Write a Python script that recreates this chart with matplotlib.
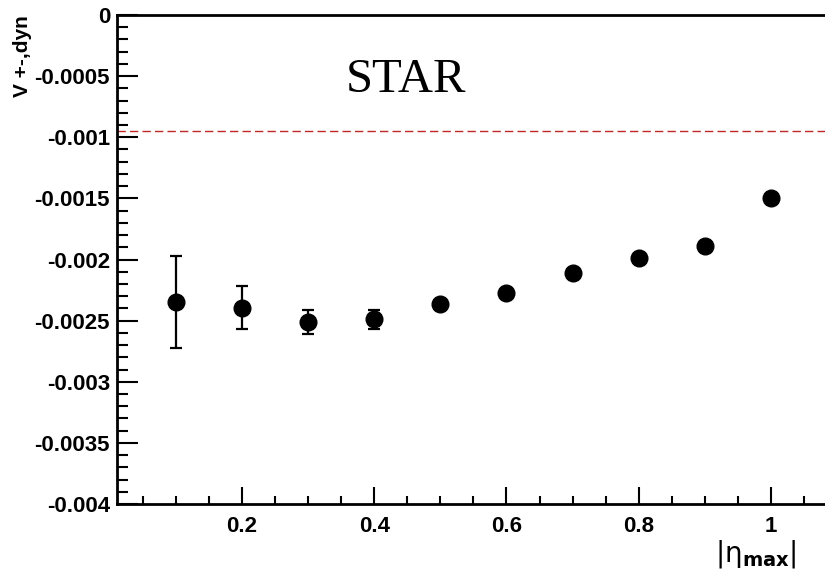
import numpy as np
import matplotlib
matplotlib.use("Agg")
import matplotlib.pyplot as plt
from matplotlib.ticker import MultipleLocator, FuncFormatter

eta_max = [0.1, 0.2, 0.3, 0.4, 0.5, 0.6, 0.7, 0.8, 0.9, 1.0]
v_dyn = [-0.00235, -0.00240, -0.00251, -0.00249, -0.00236, -0.00227,
         -0.00211, -0.00199, -0.00189, -0.00150]
err_up = [0.00038, 0.00018, 0.00010, 0.00008, 0.0, 0.0, 0.0, 0.0, 0.0, 0.0]
err_dn = [0.00037, 0.00017, 0.00010, 0.00008, 0.0, 0.0, 0.0, 0.0, 0.0, 0.0]
ref_level = -0.00095

plt.rcParams["font.family"] = ["Liberation Sans", "DejaVu Sans"]

fig = plt.figure(figsize=(8.25, 5.71), dpi=100)
ax = fig.add_axes([117 / 825, 1 - 504 / 571, 1 - 117 / 825, (504 - 15) / 571])

ax.axhline(ref_level, color="#c02828", lw=1.0, ls=(0, (6, 3)), zorder=1)
ax.errorbar(eta_max, v_dyn, yerr=[err_dn, err_up], fmt="o", color="black",
            ms=12, elinewidth=1.6, capsize=4, capthick=1.6, zorder=3)

ax.set_xlim(0.011, 1.0817)
ax.set_ylim(-0.004, 0.0)

ax.xaxis.set_major_locator(MultipleLocator(0.2))
ax.xaxis.set_minor_locator(MultipleLocator(0.05))
ax.yaxis.set_major_locator(MultipleLocator(0.0005))
ax.yaxis.set_minor_locator(MultipleLocator(0.0001))
ax.xaxis.set_major_formatter(FuncFormatter(lambda v, p: f"{v:g}"))
ax.yaxis.set_major_formatter(FuncFormatter(lambda v, p: "0" if abs(v) < 1e-12 else f"{v:g}"))

ax.tick_params(which="both", direction="in", width=1.5, labelsize=16,
               top=False, right=False)
ax.tick_params(axis="y", which="major", length=15, pad=5)
ax.tick_params(axis="y", which="minor", length=8)
ax.tick_params(axis="x", which="major", length=12, pad=9)
ax.tick_params(axis="x", which="minor", length=6)
for lab in ax.get_xticklabels() + ax.get_yticklabels():
    lab.set_fontweight("bold")

for s in ["left", "bottom", "top"]:
    ax.spines[s].set_linewidth(2)
ax.spines["right"].set_visible(False)

ax.text(0.357, -0.00063, "STAR", family="Liberation Serif", fontsize=35,
        ha="left", va="baseline")

fig.text(22 / 825, 1 - 15 / 571, "V +-,dyn", rotation=90, ha="center",
         va="top", fontsize=15, fontweight="bold")
fig.text(797 / 825, 1 - 562 / 571, r"$|\mathrm{\eta}_{\mathbf{max}}|$",
         ha="right", va="baseline", fontsize=20)

fig.savefig("out.png", dpi=100)
plt.close(fig)
